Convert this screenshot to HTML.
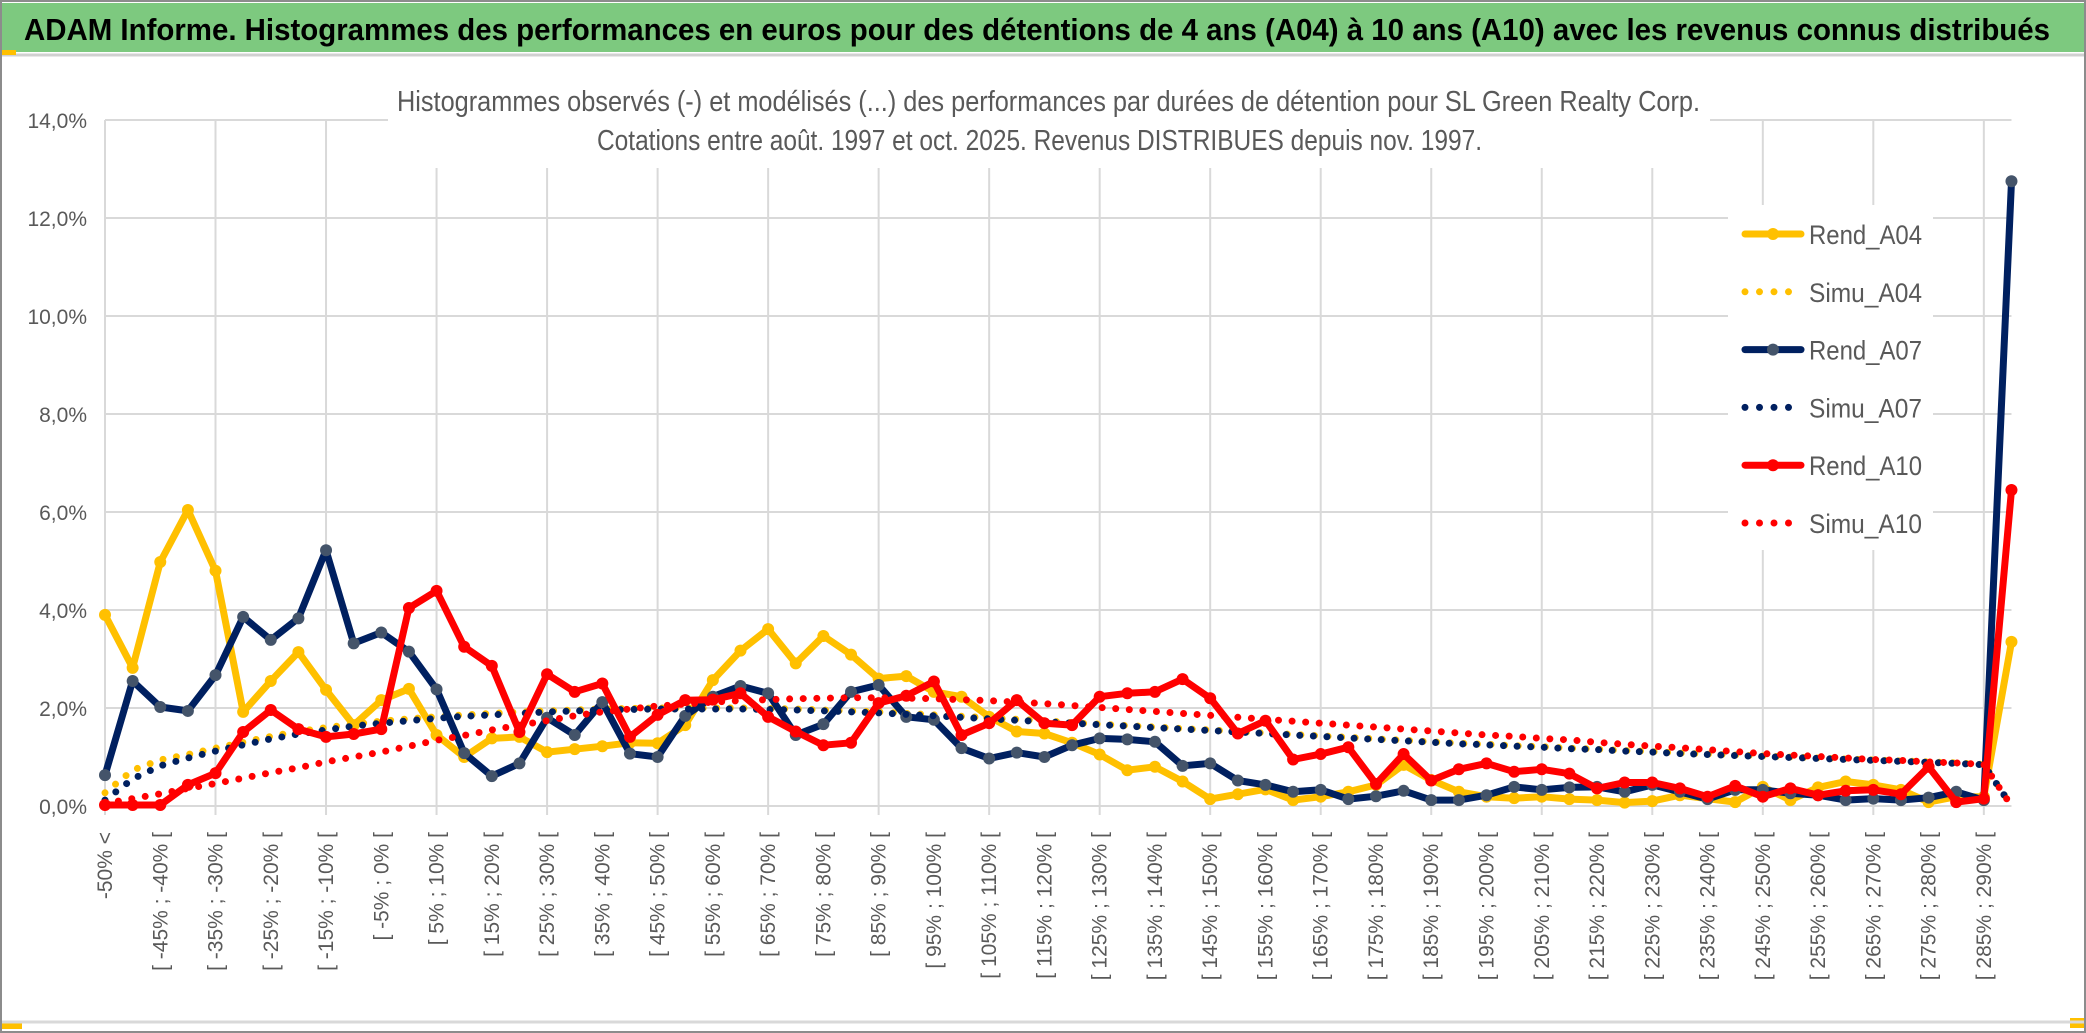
<!DOCTYPE html>
<html><head><meta charset="utf-8"><style>
html,body{margin:0;padding:0;background:#fff;}
svg{display:block;font-family:"Liberation Sans",sans-serif;}
</style></head><body>
<svg id="chart" width="2086" height="1033" viewBox="0 0 2086 1033" xmlns="http://www.w3.org/2000/svg">
<rect x="1" y="1" width="2084" height="1031" fill="#fff" stroke="#8c8c8c" stroke-width="2"/>
<rect x="2" y="3" width="2082" height="49" fill="#7dc97f"/>
<line x1="2" y1="55" x2="2084" y2="55" stroke="#d0d0d0" stroke-width="3"/>
<rect x="2" y="50" width="14" height="5" fill="#ffc000"/>
<rect x="2" y="1023" width="20" height="6" fill="#ffc000"/>
<rect x="2070" y="1018" width="14" height="10" fill="#ffc000"/>
<line x1="2" y1="1022" x2="2084" y2="1022" stroke="#d9d9d9" stroke-width="3"/>
<text x="24" y="40" font-size="31" font-weight="bold" fill="#000" textLength="2026" lengthAdjust="spacingAndGlyphs">ADAM Informe. Histogrammes des performances en euros pour des détentions de 4 ans (A04) à 10 ans (A10) avec les revenus connus distribués</text>
<g id="grid"></g>
<g id="yaxis"></g>
<g id="xaxis"></g>
<g id="series"></g>
<rect x="388" y="84" width="1322" height="84" fill="#fff"/>
<text x="397" y="111" font-size="29" fill="#595959" textLength="1303" lengthAdjust="spacingAndGlyphs">Histogrammes observés (-) et modélisés (...) des performances par durées de détention pour SL Green Realty Corp.</text>
<text x="597" y="150" font-size="29" fill="#595959" textLength="885" lengthAdjust="spacingAndGlyphs">Cotations entre août. 1997 et oct. 2025. Revenus DISTRIBUES depuis nov. 1997.</text>
<g id="legend"></g>
</svg>
<script>
const categoryLows = [];
for (let k = -50; k <= 290; k += 5) categoryLows.push(k);
const rendA04 = [3.9,2.82,4.98,6.04,4.8,1.92,2.55,3.14,2.37,1.65,2.16,2.39,1.45,1.0,1.38,1.41,1.1,1.16,1.22,1.29,1.28,1.65,2.57,3.17,3.61,2.91,3.47,3.09,2.6,2.65,2.33,2.23,1.82,1.52,1.48,1.29,1.05,0.73,0.8,0.5,0.14,0.24,0.34,0.12,0.19,0.29,0.43,0.84,0.53,0.29,0.19,0.16,0.19,0.14,0.12,0.07,0.1,0.22,0.15,0.08,0.39,0.12,0.38,0.5,0.43,0.33,0.08,0.19,0.19,3.35];
const simuA04 = [0.27,0.73,0.94,1.05,1.18,1.3,1.42,1.52,1.6,1.67,1.73,1.78,1.82,1.86,1.89,1.92,1.94,1.96,1.98,1.99,2.0,2.0,2.0,2.0,1.99,1.98,1.96,1.94,1.92,1.89,1.86,1.83,1.8,1.77,1.74,1.7,1.67,1.64,1.61,1.58,1.55,1.52,1.49,1.46,1.43,1.4,1.37,1.34,1.31,1.28,1.26,1.23,1.21,1.18,1.16,1.13,1.11,1.08,1.06,1.04,1.02,1.0,0.98,0.96,0.94,0.92,0.9,0.88,0.85,0.0];
const rendA07 = [0.63,2.55,2.02,1.94,2.67,3.86,3.39,3.83,5.22,3.32,3.54,3.15,2.38,1.08,0.61,0.87,1.8,1.45,2.12,1.07,1.0,1.84,2.23,2.45,2.3,1.45,1.67,2.33,2.47,1.82,1.76,1.18,0.97,1.09,1.0,1.24,1.38,1.36,1.31,0.82,0.87,0.52,0.43,0.29,0.33,0.14,0.2,0.31,0.12,0.12,0.22,0.39,0.33,0.38,0.39,0.29,0.43,0.29,0.14,0.33,0.33,0.26,0.22,0.12,0.15,0.12,0.17,0.29,0.12,12.75];
const simuA07 = [0.12,0.55,0.82,0.98,1.12,1.25,1.37,1.47,1.55,1.63,1.69,1.74,1.79,1.83,1.86,1.89,1.92,1.94,1.96,1.97,1.98,1.98,1.98,1.98,1.97,1.96,1.94,1.92,1.9,1.87,1.84,1.81,1.78,1.75,1.72,1.69,1.66,1.63,1.6,1.57,1.54,1.51,1.48,1.45,1.42,1.39,1.36,1.33,1.3,1.27,1.25,1.22,1.2,1.17,1.15,1.12,1.1,1.07,1.05,1.03,1.01,0.99,0.97,0.95,0.93,0.91,0.89,0.87,0.84,0.0];
const rendA10 = [0.02,0.02,0.02,0.43,0.67,1.51,1.96,1.57,1.41,1.47,1.57,4.04,4.39,3.25,2.86,1.51,2.69,2.33,2.5,1.41,1.86,2.16,2.17,2.3,1.82,1.52,1.24,1.29,2.1,2.25,2.54,1.45,1.69,2.16,1.69,1.65,2.23,2.3,2.33,2.59,2.2,1.48,1.74,0.95,1.06,1.2,0.45,1.06,0.52,0.75,0.87,0.7,0.75,0.66,0.36,0.48,0.48,0.36,0.19,0.41,0.19,0.36,0.22,0.31,0.33,0.24,0.8,0.08,0.15,6.45];
const simuA10 = [0.05,0.15,0.25,0.36,0.46,0.57,0.68,0.78,0.9,1.0,1.1,1.22,1.34,1.44,1.55,1.65,1.74,1.84,1.92,1.98,2.04,2.08,2.12,2.15,2.17,2.19,2.2,2.21,2.21,2.2,2.19,2.17,2.15,2.12,2.09,2.05,2.01,1.97,1.93,1.89,1.85,1.81,1.77,1.73,1.69,1.65,1.61,1.57,1.53,1.49,1.45,1.42,1.38,1.35,1.3,1.26,1.22,1.19,1.15,1.11,1.07,1.04,1.01,0.98,0.95,0.93,0.9,0.88,0.85,0.0];
const yTicks = [0,2,4,6,8,10,12,14];
const legendNames = ["Rend_A04","Simu_A04","Rend_A07","Simu_A07","Rend_A10","Simu_A10"];

const NS = "http://www.w3.org/2000/svg";
const X0 = 105, DX = 27.63, Y0 = 806, PY = 49;
const xAt = i => X0 + DX * i;
const yAt = v => Y0 - PY * v;
function mk(tag, attrs, parent) {
  const e = document.createElementNS(NS, tag);
  for (const k in attrs) e.setAttribute(k, attrs[k]);
  parent.appendChild(e);
  return e;
}
const n = categoryLows.length + 1;
const grid = document.getElementById('grid');
yTicks.forEach(t => {
  const l = mk('line', {x1: xAt(0), x2: xAt(n - 1), y1: yAt(t), y2: yAt(t), stroke: '#d9d9d9', 'stroke-width': 2}, grid);
  
  
});
for (let i = 0; i < n; i += 4) {
  const l = mk('line', {x1: xAt(i), x2: xAt(i), y1: yAt(14), y2: Y0 + 9, stroke: '#d9d9d9', 'stroke-width': 2}, grid);
  
  
}
const ya = document.getElementById('yaxis');
yTicks.forEach(t => {
  const tx = mk('text', {x: 87, y: yAt(t) + 8, 'text-anchor': 'end', 'font-size': 21, fill: '#595959'}, ya);
  
  
  tx.textContent = t.toFixed(1).replace('.', ',') + '%';
});
const xa = document.getElementById('xaxis');
for (let i = 0; i < n - 1; i += 2) {
  const lab = i === 0 ? '-50% <' : '[ ' + categoryLows[i - 1] + '% ; ' + (categoryLows[i - 1] + 5) + '% [';
  const tx = mk('text', {transform: 'translate(' + (xAt(i) + 7) + ',832) rotate(-90)', 'text-anchor': 'end', 'font-size': 21, fill: '#595959'}, xa);
  
  
  tx.textContent = lab;
}
const sg = document.getElementById('series');
function pts(arr) { return arr.map((v, i) => xAt(i).toFixed(1) + ',' + yAt(v).toFixed(1)).join(' '); }
function rend(arr, color, mfill, name) {
  const g = mk('g', {}, sg);
  
  
  mk('polyline', {points: pts(arr), fill: 'none', stroke: color, 'stroke-width': 7, 'stroke-linejoin': 'round'}, g);
  arr.forEach((v, i) => {
    const c = mk('circle', {cx: xAt(i), cy: yAt(v), r: 6, fill: mfill}, g);
    
    
  });
}
function simu(arr, color, name) {
  const p = mk('polyline', {points: pts(arr), fill: 'none', stroke: color, 'stroke-width': 7, 'stroke-linecap': 'round', 'stroke-dasharray': '0 13.6'}, sg);
  
  
}
rend(rendA04, '#ffc000', '#ffc000', 'rend-a04-line');
simu(simuA04, '#ffc000', 'simu-a04-line');
rend(rendA07, '#002060', '#44546a', 'rend-a07-line');
simu(simuA07, '#002060', 'simu-a07-line');
rend(rendA10, '#ff0000', '#ff0000', 'rend-a10-line');
simu(simuA10, '#ff0000', 'simu-a10-line');

const lg = document.getElementById('legend');
const lbg = mk('rect', {x: 1728, y: 205, width: 205, height: 345, fill: '#fff'}, lg);


const lstyles = [['#ffc000', 0, '#ffc000'], ['#ffc000', 1], ['#002060', 0, '#44546a'], ['#002060', 1], ['#ff0000', 0, '#ff0000'], ['#ff0000', 1]];
legendNames.forEach((nm, k) => {
  const y = 234 + k * 57.8;
  const g = mk('g', {}, lg);
  
  
  const s = lstyles[k];
  if (s[1] === 0) {
    mk('line', {x1: 1745, x2: 1801, y1: y, y2: y, stroke: s[0], 'stroke-width': 7, 'stroke-linecap': 'round'}, g);
    mk('circle', {cx: 1773, cy: y, r: 6, fill: s[2]}, g);
  } else {
    mk('line', {x1: 1745, x2: 1801, y1: y, y2: y, stroke: s[0], 'stroke-width': 7, 'stroke-linecap': 'round', 'stroke-dasharray': '0 14.5'}, g);
  }
  const t = mk('text', {x: 1809, y: y + 10, 'font-size': 27, fill: '#595959', textLength: 113, lengthAdjust: 'spacingAndGlyphs'}, g);
  t.textContent = nm;
});
</script>
</body></html>
